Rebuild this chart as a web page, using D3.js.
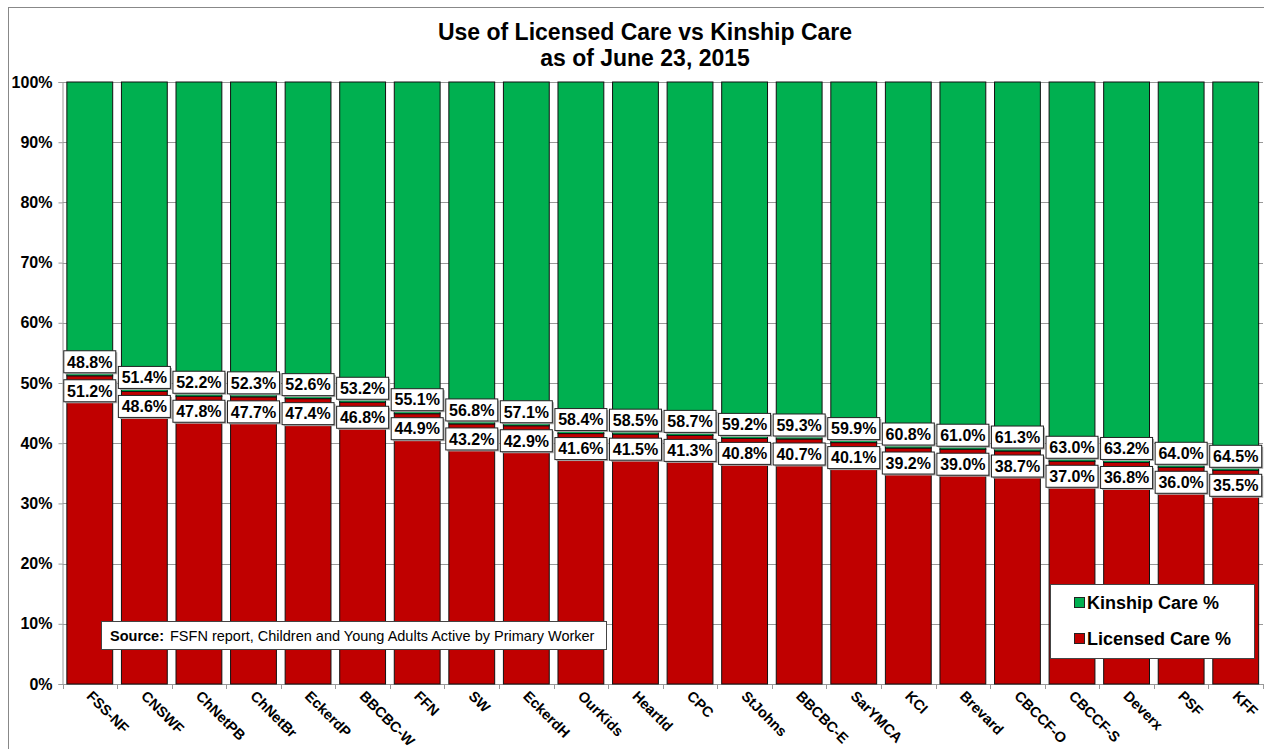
<!DOCTYPE html>
<html><head><meta charset="utf-8">
<script src="https://cdn.jsdelivr.net/npm/d3@7"></script>
<style>body{margin:0;background:#fff;}svg{display:block;font-family:Arial,"Liberation Sans",sans-serif;}</style>
</head><body><svg id="c" width="1264" height="749"></svg>
<script>
const categories = ["FSS-NF","CNSWF","ChNetPB","ChNetBr","EckerdP","BBCBC-W","FFN","SW","EckerdH","OurKids","Heartld","CPC","StJohns","BBCBC-E","SarYMCA","KCI","Brevard","CBCCF-O","CBCCF-S","Deverx","PSF","KFF"];
const licensed = [51.2,48.6,47.8,47.7,47.4,46.8,44.9,43.2,42.9,41.6,41.5,41.3,40.8,40.7,40.1,39.2,39.0,38.7,37.0,36.8,36.0,35.5];
const kinship = [48.8,51.4,52.2,52.3,52.6,53.2,55.1,56.8,57.1,58.4,58.5,58.7,59.2,59.3,59.9,60.8,61.0,61.3,63.0,63.2,64.0,64.5];
const yTicks = [0,10,20,30,40,50,60,70,80,90,100];
const seriesNames = ["Kinship Care %","Licensed Care %"];
const colors = {kin:"#00B050", lic:"#C00000"};

const svg = d3.select("#c");
// outer border
svg.append("rect").attr("x",8.5).attr("y",7.5).attr("width",1300).attr("height",800)
  .attr("fill","none").attr("stroke","#888").attr("stroke-width",1);

const L=62.5, R=1263, T=82, B=684;
const x = d3.scaleBand().domain(categories).range([L,R]).paddingInner(0.16).paddingOuter(0.08);
const y = d3.scaleLinear().domain([0,100]).range([B,T]);

// gridlines
svg.append("g").selectAll("line").data(yTicks.filter(d=>d>0)).join("line")
  .attr("x1",L).attr("x2",R).attr("y1",d=>Math.round(y(d))+0.5).attr("y2",d=>Math.round(y(d))+0.5)
  .attr("stroke","#999").attr("stroke-width",1);

// y axis
const yAxis = d3.axisLeft(y).tickValues(yTicks).tickFormat(d=>d+"%").tickSize(4).tickPadding(6);
const ga = svg.append("g").attr("transform",`translate(${L},0)`).call(yAxis);
ga.select(".domain").attr("stroke","#999");
ga.selectAll(".tick line").attr("stroke","#999");
ga.selectAll("text").attr("font-size",16).attr("font-weight","bold").attr("fill","#000");

// x axis
const xAxis = d3.axisBottom(x).tickSize(0).tickFormat("");
const gx = svg.append("g").attr("transform",`translate(0,${B})`).call(xAxis);
gx.select(".domain").attr("stroke","#999");
const bounds = d3.range(categories.length+1).map(i=> L + i*(R-L)/categories.length);
svg.append("g").selectAll("line").data(bounds).join("line")
  .attr("x1",d=>Math.round(d)+0.5).attr("x2",d=>Math.round(d)+0.5).attr("y1",B).attr("y2",B+5)
  .attr("stroke","#999");

// bars
const bw = x.bandwidth();
const g = svg.append("g");
categories.forEach((c,i)=>{
  g.append("rect").attr("x",x(c)).attr("width",bw).attr("y",y(licensed[i])).attr("height",y(0)-y(licensed[i]))
    .attr("fill",colors.lic).attr("stroke","#111").attr("stroke-width",1);
  g.append("rect").attr("x",x(c)).attr("width",bw).attr("y",y(100)).attr("height",y(licensed[i])-y(100))
    .attr("fill",colors.kin).attr("stroke","#111").attr("stroke-width",1);
});

// x labels
svg.append("g").selectAll("text").data(categories).join("text")
  .attr("transform",d=>`translate(${x(d)+bw/2-4},${B+13}) rotate(45)`)
  .attr("font-size",14.5).attr("font-weight","bold").attr("fill","#000")
  .text(d=>d);

// data labels
const lw=52, lh=22;
function label(cx, top, txt){
  const gg = svg.append("g");
  gg.append("rect").attr("x",cx-lw/2+1.5).attr("y",top+1.5).attr("width",lw).attr("height",lh).attr("fill","#aaa");
  gg.append("rect").attr("x",cx-lw/2).attr("y",top).attr("width",lw).attr("height",lh).attr("fill","#fff").attr("stroke","#222").attr("stroke-width",1);
  gg.append("text").attr("x",cx).attr("y",top+lh/2).attr("dy","0.36em").attr("text-anchor","middle")
    .attr("font-size",16).attr("font-weight","bold").attr("fill","#000").text(txt);
}
categories.forEach((c,i)=>{
  const cx = x(c)+bw/2;
  const yb = y(licensed[i]);
  label(cx, yb-3-lh, kinship[i].toFixed(1)+"%");
  label(cx, yb+4, licensed[i].toFixed(1)+"%");
});

// title
svg.append("text").attr("x",645).attr("y",40).attr("text-anchor","middle").attr("font-size",23).attr("font-weight","bold").text("Use of Licensed Care vs Kinship Care");
svg.append("text").attr("x",645).attr("y",66).attr("text-anchor","middle").attr("font-size",23).attr("font-weight","bold").text("as of June 23, 2015");

// source box
svg.append("rect").attr("x",101.5).attr("y",621.5).attr("width",505).attr("height",28).attr("fill","#fff").attr("stroke","#444");
const st = svg.append("text").attr("x",110).attr("y",640.5).attr("font-size",14.5).attr("fill","#000");
st.append("tspan").attr("font-weight","bold").text("Source:");
st.append("tspan").attr("dx",6).text("FSFN report, Children and Young Adults Active by Primary Worker");

// legend
svg.append("rect").attr("x",1050.5).attr("y",584.5).attr("width",204).attr("height",74).attr("fill","#fff").attr("stroke","#444");
const leg = svg.append("g");
[[seriesNames[0],colors.kin,603],[seriesNames[1],colors.lic,639]].forEach(([n,col,yy])=>{
  leg.append("rect").attr("x",1074.5).attr("y",yy-5.5).attr("width",10).attr("height",10).attr("fill",col).attr("stroke","#222");
  leg.append("text").attr("x",1087).attr("y",yy).attr("dy","0.36em").attr("font-size",18).attr("font-weight","bold").text(n);
});
</script></body></html>
